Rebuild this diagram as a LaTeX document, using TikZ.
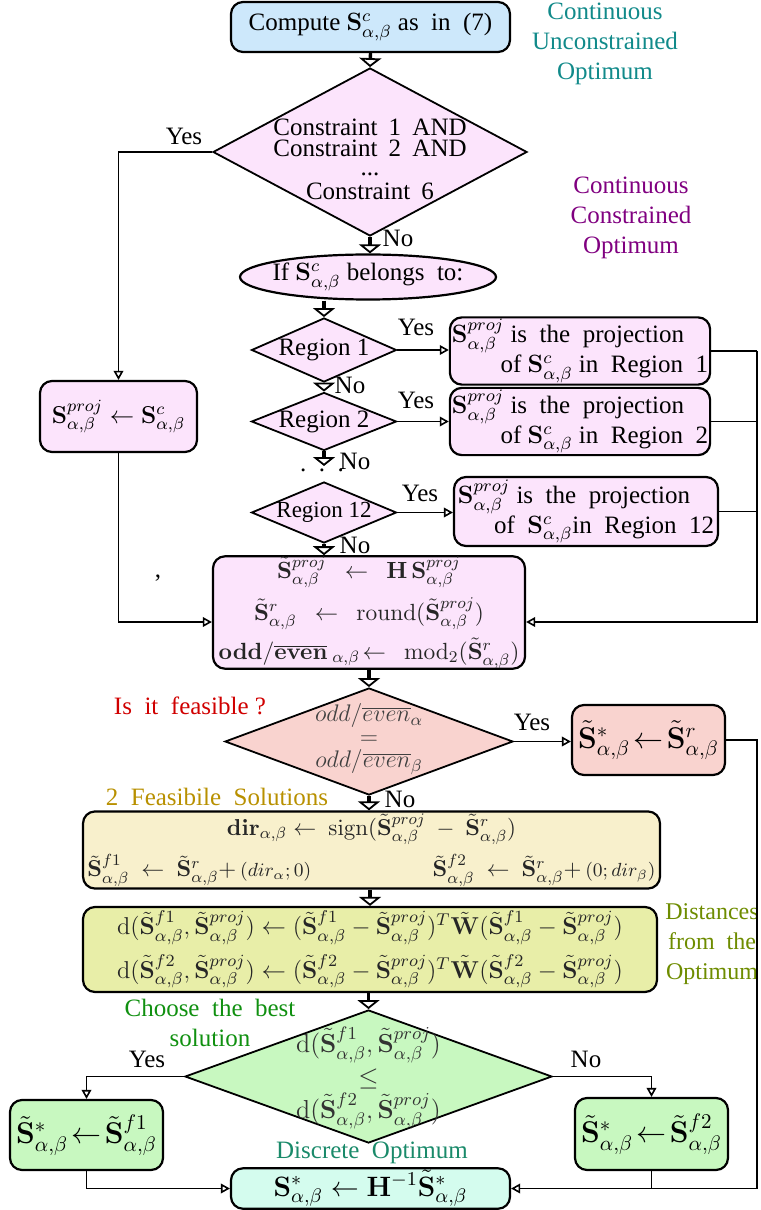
\RequirePackage{fix-cm}
\documentclass[tikz,border=0pt]{standalone}
\usepackage[no-math]{fontspec}
\setmainfont{Liberation Serif}
\usetikzlibrary{arrows.meta,shapes.geometric}
\definecolor{cBlue}{HTML}{CDE8FB}
\definecolor{cPink}{HTML}{FCE4FC}
\definecolor{cSalmon}{HTML}{F9D3CF}
\definecolor{cYellow}{HTML}{F8F0CC}
\definecolor{cLime}{HTML}{E8EEA8}
\definecolor{cGreen}{HTML}{C8F8C0}
\definecolor{cCyan}{HTML}{D4FCEE}
\definecolor{tTeal}{HTML}{118A8A}
\definecolor{tPurple}{HTML}{800080}
\definecolor{tRed}{HTML}{D00000}
\definecolor{tGold}{HTML}{B89000}
\definecolor{tOlive}{HTML}{6E8C00}
\definecolor{tGreen}{HTML}{109010}
\definecolor{tSea}{HTML}{1A8A6A}
\newcommand{\mbS}{\mathbf{S}}
\newcommand{\mtS}{\tilde{\mathbf{S}}}
\newcommand{\mAB}{\alpha,\beta}
\begin{document}
\begin{tikzpicture}[x=0.5bp,y=-0.5bp,
  every node/.style={font=\fontsize{12.5bp}{15bp}\selectfont},
  box/.style={draw, line width=1.1bp, rounded corners=6bp, inner sep=1bp, align=center},
  dia/.style={draw, diamond, line width=0.9bp, inner sep=0pt},
  lbl/.style={inner sep=0pt, align=center},
  trunk/.style={line width=1.7bp, -{Triangle[open,width=11bp,length=4.5bp,line width=0.9bp]}},
  side/.style={line width=0.8bp, -{Triangle[open,width=4.8bp,length=4.5bp,line width=0.8bp]}},
  wire/.style={line width=0.8bp},
  bigmath/.style={font=\fontsize{15bp}{18bp}\selectfont},
]
\useasboundingbox (0,0) rectangle (760,1210);

% top
\node[box, fill=cBlue, minimum width=139.5bp, minimum height=25bp] (compute) at (370.5,27) {Compute $\mbS^c_{\mAB}$ as\ \ in\ \ (7)};
\node[lbl, text=tTeal] (lblU) at (605,44) {Continuous\\Unconstrained\\Optimum};

\node[dia, fill=cPink, minimum width=157bp, minimum height=84bp] (cons) at (370,152) {};
\node[lbl] (const) at (370,159) {Constraint\hspace{0.45em}1\hspace{0.45em}AND\\[-4.5bp]Constraint\hspace{0.45em}2\hspace{0.45em}AND\\[-5.5bp]...\\[-3bp]Constraint\hspace{0.45em}6};
\node[lbl, text=tPurple] (lblC) at (631,218) {Continuous\\Constrained\\Optimum};

\node[draw, ellipse, fill=cPink, line width=1.1bp, inner sep=0pt, minimum width=128bp, minimum height=22.5bp] (ifel) at (368,277) {};
\node[lbl] (ift) at (368,277) {If $\mbS^c_{\mAB}$ belongs\ \ to:};

% regions
\node[dia, fill=cPink, minimum width=72.5bp, minimum height=32bp] (r1) at (324,350) {};
\node[lbl] (r1t) at (324,350) {Region 1};
\node[dia, fill=cPink, minimum width=72.5bp, minimum height=29bp] (r2) at (324,421.5) {};
\node[lbl] (r2t) at (324,421.5) {Region 2};
\coordinate (r2end) at (324,466);
\node[lbl] (dots) at (322,470) {.\ \ .\ \ .};
\node[dia, fill=cPink, minimum width=72.5bp, minimum height=30.5bp] (r12) at (324,512.5) {};
\node[lbl, font=\fontsize{11.5bp}{14bp}\selectfont] (r12t) at (324,512.5) {Region 12};

\node[box, fill=cPink, minimum width=130bp, minimum height=33bp, align=right] (p1) at (580,351) {$\mbS^{proj}_{\mAB}$ is\ \ the\ \ projection\hspace*{12bp}\\of $\mbS^c_{\mAB}$ in\ \ Region\ \ 1};
\node[box, fill=cPink, minimum width=130bp, minimum height=33.5bp, align=right] (p2) at (580,421.5) {$\mbS^{proj}_{\mAB}$ is\ \ the\ \ projection\hspace*{12bp}\\of $\mbS^c_{\mAB}$ in\ \ Region\ \ 2};
\node[box, fill=cPink, minimum width=132bp, minimum height=34.5bp, align=right] (p12) at (586,511.5) {$\mbS^{proj}_{\mAB}$ is\ \ the\ \ projection\hspace*{12bp}\\of\ \ $\mbS^c_{\mAB}$in\ \ Region\ \ 12};

\node[box, fill=cPink, minimum width=78.5bp, minimum height=35.5bp, font=\fontsize{12.2bp}{15bp}\selectfont] (lbox) at (118.5,416.5) {$\mbS^{proj}_{\mAB}\leftarrow\mbS^c_{\mAB}$};
\node[lbl] (comma) at (158,578) {,};

% big box
\node[box, fill=cPink, minimum width=156bp, minimum height=55.5bp, text=black!85, inner sep=0pt, font=\fontsize{11.7bp}{14bp}\selectfont] (bigbox) at (369,612.5) {$\mtS^{proj}_{\mAB}\ \ \leftarrow\ \ \mathbf{H}\,\mbS^{proj}_{\mAB}$\\[4bp]$\mtS^{r}_{\mAB}\ \ \leftarrow\ \ \mathrm{round}(\mtS^{proj}_{\mAB})$\\[3bp]$\mathbf{odd}/\overline{\mathbf{even}}_{\;\mAB}\!\leftarrow\ \ \mathrm{mod}_2(\mtS^{r}_{\mAB})$};

% feasibility
\node[dia, fill=cSalmon, minimum width=144bp, minimum height=53.5bp] (feas) at (369,741.5) {};
\node[lbl, text=black!75, font=\fontsize{12bp}{14bp}\selectfont] (feast) at (369,739) {$odd/\overline{even}_{\alpha}$\\[-2.5bp]$=$\\[-2.5bp]$odd/\overline{even}_{\beta}$};
\node[lbl, text=tRed] (lblF) at (190,706) {Is\ \ it\ \ feasible ?};
\node[box, fill=cSalmon, minimum width=76.5bp, minimum height=35bp, bigmath] (sr) at (648.5,740) {$\mtS^{*}_{\mAB}\!\leftarrow\!\mtS^{r}_{\mAB}$};

% two solutions
\node[lbl, text=tGold] (lblS) at (217,797) {2\ \ Feasibile\ \ Solutions};
\node[box, fill=cYellow, minimum width=288.5bp, minimum height=38bp, text=black!85, font=\fontsize{11.5bp}{14bp}\selectfont] (ybox) at (371.5,850) {$\mathbf{dir}_{\mAB}\leftarrow\ \mathrm{sign}(\mtS^{proj}_{\mAB}\ -\ \mtS^{r}_{\mAB})$\\[4bp]\makebox[284bp]{$\mtS^{f1}_{\mAB}\ \leftarrow\ \mtS^{r}_{\mAB}+\,$\mbox{\fontsize{9.5bp}{11bp}\selectfont$(dir_{\alpha};0)$}\hfill$\mtS^{f2}_{\mAB}\ \leftarrow\ \mtS^{r}_{\mAB}+\,$\mbox{\fontsize{9.5bp}{11bp}\selectfont$(0;dir_{\beta})$}}};

\node[box, fill=cLime, minimum width=287bp, minimum height=42.5bp, text=black!85, font=\fontsize{12.2bp}{15bp}\selectfont] (gbox) at (370,949.5) {$\mathrm{d}(\mtS^{f1}_{\mAB},\mtS^{proj}_{\mAB})\leftarrow(\mtS^{f1}_{\mAB}-\mtS^{proj}_{\mAB})^T\tilde{\mathbf{W}}(\mtS^{f1}_{\mAB}-\mtS^{proj}_{\mAB})$\\[4bp]$\mathrm{d}(\mtS^{f2}_{\mAB},\mtS^{proj}_{\mAB})\leftarrow(\mtS^{f2}_{\mAB}-\mtS^{proj}_{\mAB})^T\tilde{\mathbf{W}}(\mtS^{f2}_{\mAB}-\mtS^{proj}_{\mAB})$};
\node[lbl, text=tOlive, font=\fontsize{12bp}{15bp}\selectfont] (lblD) at (712,944) {Distances\\from\ \ the\\Optimum};

% choose
\node[dia, fill=cGreen, minimum width=183.5bp, minimum height=66.5bp] (ch) at (368.5,1076.5) {};
\node[lbl, text=black!80, font=\fontsize{13bp}{15bp}\selectfont] (cht) at (368.5,1078) {$\mathrm{d}(\mtS^{f1}_{\mAB},\mtS^{proj}_{\mAB})$\\[1.5bp]$\leq$\\[1.5bp]$\mathrm{d}(\mtS^{f2}_{\mAB},\mtS^{proj}_{\mAB})$};
\node[lbl, text=tGreen] (lblB) at (210,1023) {Choose\ \ the\ \ best\\solution};
\node[box, fill=cGreen, minimum width=76.5bp, minimum height=35bp, bigmath] (lg) at (86.5,1135) {$\mtS^{*}_{\mAB}\!\leftarrow\!\mtS^{f1}_{\mAB}$};
\node[box, fill=cGreen, minimum width=76.5bp, minimum height=36bp, bigmath] (rg) at (651.5,1134) {$\mtS^{*}_{\mAB}\!\leftarrow\!\mtS^{f2}_{\mAB}$};
\node[lbl, text=tSea] (lblO) at (372,1153) {Discrete\ \ Optimum};
\node[box, fill=cCyan, minimum width=139.5bp, minimum height=20bp, font=\fontsize{14bp}{16bp}\selectfont] (fin) at (370.5,1188.5) {$\mbS^{*}_{\mAB}\leftarrow\mathbf{H}^{-1}\mtS^{*}_{\mAB}$};

% yes/no labels
\node[lbl] (y0) at (184,136) {Yes};
\node[lbl] (n0) at (398,238) {No};
\node[lbl] (y1) at (416,327) {Yes};
\node[lbl] (n1) at (350,385) {No};
\node[lbl] (y2) at (416,400) {Yes};
\node[lbl] (n2) at (355,461) {No};
\node[lbl] (y12) at (420,493) {Yes};
\node[lbl] (n12) at (355,545) {No};
\node[lbl] (yF) at (532,722) {Yes};
\node[lbl] (nF) at (400,799) {No};
\node[lbl] (yC) at (147,1059) {Yes};
\node[lbl] (nC) at (586,1059) {No};

% bus
\coordinate (bx) at (757,0);

% trunk
\draw[trunk] (compute.south) -- (cons.north);
\draw[trunk] (cons.south) -- (cons.south |- ifel.north);
\draw[trunk] (r1.north |- ifel.south) -- (r1.north);
\draw[trunk] (r1.south) -- (r2.north);
\draw[trunk] (r2.south) -- (r2end);
\draw[trunk] (r12.south) -- (r12.south |- bigbox.north);
\draw[trunk] (bigbox.south -| feas.north) -- (feas.north);
\draw[trunk] (feas.south) -- (feas.south |- ybox.north);
\draw[trunk] (ybox.south -| gbox.north) -- (gbox.north);
\draw[trunk] (gbox.south -| ch.north) -- (ch.north);

% side
\draw[side] (cons.west) -| (lbox.north);
\draw[side] (lbox.south) |- ([yshift=-4.75bp]bigbox.west);
\draw[side] (r1.east) -- (r1.east -| p1.west);
\draw[side] (r2.east) -- (r2.east -| p2.west);
\draw[side] (r12.east) -- (r12.east -| p12.west);
\draw[wire] (p1.east) -- (p1.east -| bx);
\draw[wire] (p2.east) -- (p2.east -| bx);
\draw[wire] (p12.east) -- (p12.east -| bx);
\draw[side] (p1.east -| bx) |- ([yshift=-4.75bp]bigbox.east);
\draw[side] (feas.east) -- (feas.east -| sr.west);
\draw[side] (sr.east) -- (sr.east -| bx) |- (fin.east);
\draw[side] (ch.west) -| (lg.north);
\draw[side] (ch.east) -| (rg.north);
\draw[side] (lg.south) |- (fin.west);
\draw[wire] (rg.south) -- (rg.south |- fin.east);
\end{tikzpicture}
\end{document}
